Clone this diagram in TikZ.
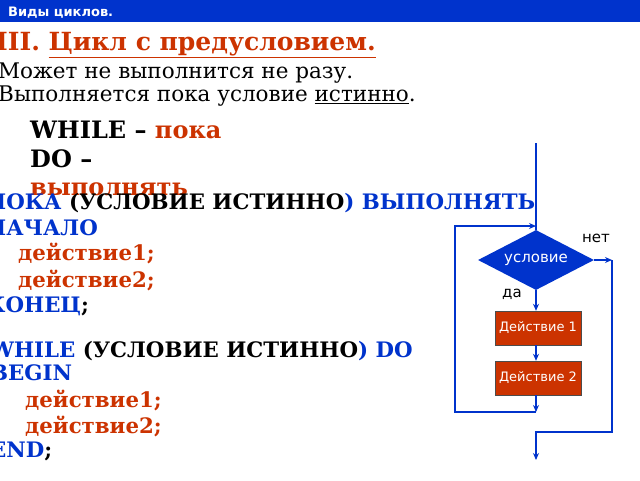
\documentclass[tikz,border=0pt]{standalone}
\usepackage{fontspec}
\setmainfont{DejaVu Serif}
\setsansfont{DejaVu Sans}
\usetikzlibrary{shapes.geometric,arrows.meta,positioning}
\definecolor{hdrblue}{RGB}{0,51,204}
\definecolor{rustred}{RGB}{204,51,0}
\definecolor{kwblue}{RGB}{0,51,204}
\tikzset{
  txt/.style={anchor=base west,inner sep=0pt},
  code/.style={txt,font=\bfseries\fontsize{21.3}{24}\selectfont},
  flow/.style={draw=kwblue,line width=2.4pt},
  act/.style={rectangle,draw=black!70,fill=rustred,text=white,minimum width=86pt,
    minimum height=34pt,font=\sffamily\fontsize{13}{14}\selectfont},
  cond/.style={diamond,aspect=1.95,fill=hdrblue,text=white,inner sep=1pt,
    minimum width=116pt,minimum height=60pt,font=\sffamily\fontsize{15}{16}\selectfont}
}
\begin{document}
\begin{tikzpicture}[x=1pt,y=-1pt,>={Stealth[length=7pt,width=6pt]}]
\useasboundingbox[fill=white] (0,0) rectangle (640,480);
\clip (0,0) rectangle (640,480);

\fill[hdrblue] (0,0) rectangle (640,22);
\node[txt,text=white,font=\sffamily\bfseries\fontsize{13}{14}\selectfont] (hdr) at (8,16) {Виды циклов.};

\node[txt,text=rustred,font=\bfseries\fontsize{25}{28}\selectfont] (title) at (-4,50)
  {III. \underline{Цикл с предусловием.}};
\node[txt,font=\fontsize{21.5}{24}\selectfont] (line1) at (-2,78) {Может не выполнится не разу.};
\node[txt,font=\fontsize{21.5}{24}\selectfont] (line2) at (-2,101) {Выполняется пока условие \underline{истинно}.};

\node[txt,font=\bfseries\fontsize{24}{26}\selectfont] (wh) at (30,138) {WHILE – \textcolor{rustred}{пока}};
\node[txt,font=\bfseries\fontsize{24}{26}\selectfont] (do) at (30,167) {DO –};
\node[txt,text=rustred,font=\bfseries\fontsize{24}{26}\selectfont] (dov) at (30,195) {выполнять};

% русская запись
\node[code] (p1) at (-14,209) {\textcolor{kwblue}{ПОКА} (УСЛОВИЕ ИСТИННО\textcolor{kwblue}{) ВЫПОЛНЯТЬ}};
\node[code,text=kwblue] (p2) at (-14,235) {НАЧАЛО};
\node[code,text=rustred] (p3) at (18,260) {действие1;};
\node[code,text=rustred] (p4) at (18,287) {действие2;};
\node[code] (p5) at (-14,312) {\textcolor{kwblue}{КОНЕЦ};};

% английская запись
\node[code] (e1) at (-10,357) {\textcolor{kwblue}{WHILE} (УСЛОВИЕ ИСТИННО\textcolor{kwblue}{) DO}};
\node[code,text=kwblue] (e2) at (-10,380) {BEGIN};
\node[code,text=rustred] (e3) at (25,407) {действие1;};
\node[code,text=rustred] (e4) at (25,433) {действие2;};
\node[code] (e5) at (-10,457) {\textcolor{kwblue}{END};};

% блок-схема
\coordinate (top) at (536,143);
\node[cond] (usl) at (536,260) {условие};
\node[act] (d1) at (538,328) {Действие 1};
\node[act] (d2) at (538,378) {Действие 2};
\coordinate (merge) at (536,412);
\coordinate (loopL) at (455,412);
\coordinate (loopT) at (455,226);
\coordinate (entry) at (536,226);
\coordinate (noR) at (612,260);
\coordinate (noB) at (612,432);
\coordinate (exitT) at (536,432);
\coordinate (bottom) at (536,460);
\node[font=\sffamily\fontsize{15}{16}\selectfont] (net) at (596,238) {нет};
\node[font=\sffamily\fontsize{15}{16}\selectfont] (da) at (512,294) {да};

\draw[flow] (top) -- (usl.north);
\draw[flow,->] (usl.south) -- (d1.north -| usl.south);
\draw[flow,->] (d1.south -| usl.south) -- (d2.north -| usl.south);
\draw[flow,->] (d2.south -| usl.south) -- (merge);
\draw[flow,->] (merge) -- (loopL) -- (loopT) -- (entry);
\draw[flow,->] (usl.east) -- (noR);
\draw[flow,->] (noR) -- (noB) -- (exitT) -- (bottom);
\end{tikzpicture}
\end{document}
